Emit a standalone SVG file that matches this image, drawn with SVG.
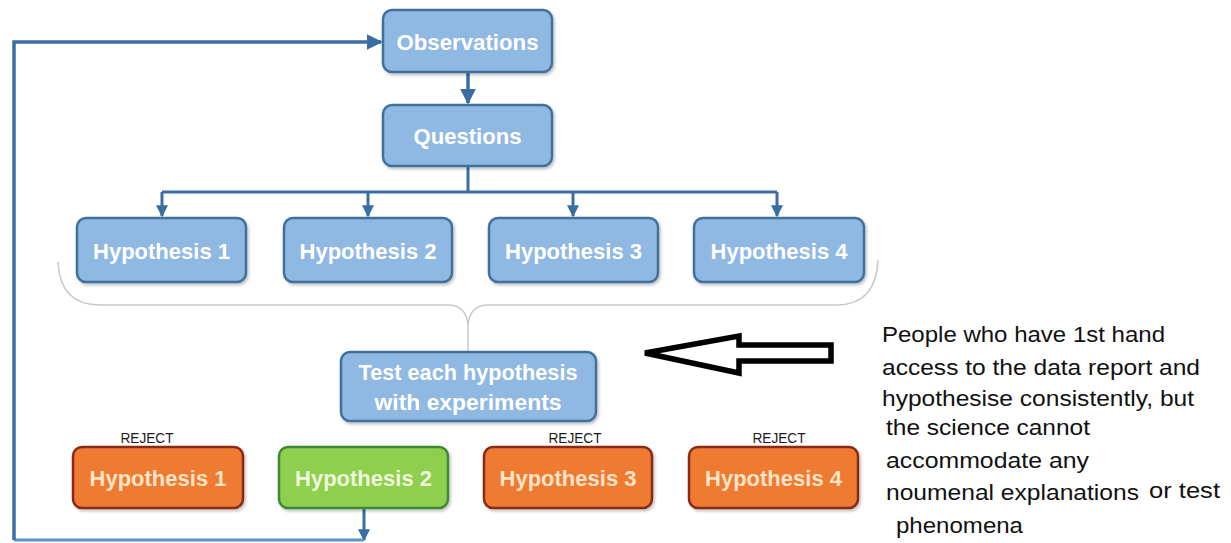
<svg xmlns="http://www.w3.org/2000/svg" width="1231" height="543" viewBox="0 0 1231 543">
  <defs>
    <style>
      .blue rect { fill: #8fb8e3; stroke: #3f6f9c; stroke-width: 2.5; }
      .orange rect { fill: #ef7a32; stroke: #8a2c14; stroke-width: 2.5; }
      .green rect { fill: #8ecf4e; stroke: #3e8a34; stroke-width: 2.5; }
      .lbl { font-family: "Liberation Sans", Arial, sans-serif; font-weight: bold; font-size: 22px; text-anchor: middle; }
      .blue text { fill: #ffffff; }
      .orange text.lbl { fill: #fbe3c6; }
      .green text.lbl { fill: #eef8dc; }
      .rej { font-family: "Liberation Sans", Arial, sans-serif; font-size: 14px; fill: #1a1a1a; text-anchor: middle; }
      .note { font-family: "Liberation Sans", Arial, sans-serif; font-size: 22px; fill: #111111; }
      .conn { fill: none; stroke: #3a6ea2; stroke-width: 3.5; }
      .thin { fill: none; stroke: #3a6ea2; stroke-width: 3; }
    </style>
    <marker id="ah" viewBox="0 0 10 10" refX="9" refY="5" markerWidth="4" markerHeight="4" orient="auto" markerUnits="strokeWidth">
      <path d="M0,0 L10,5 L0,10 z" fill="#3a6ea2"/>
    </marker>
    <marker id="ahb" viewBox="0 0 10 10" refX="9" refY="5" markerWidth="4.6" markerHeight="4.6" orient="auto" markerUnits="strokeWidth">
      <path d="M0,0 L10,5 L0,10 z" fill="#3a6ea2"/>
    </marker>
    <filter id="sh" x="-10%" y="-10%" width="130%" height="140%">
      <feDropShadow dx="1.5" dy="2" stdDeviation="1.5" flood-color="#000" flood-opacity="0.25"/>
    </filter>
  </defs>
  <rect width="1231" height="543" fill="#ffffff"/>

  <!-- brace -->
  <g id="brace" fill="none" stroke="#c9c9c9" stroke-width="1.5">
    <path d="M58,262 Q60,305 100,305 L448,305 Q466,305 468,325 Q470,305 488,305 L836,305 Q876,305 878,260"/>
    <path d="M468,325 L468,352"/>
  </g>

  <!-- connectors -->
  <g id="connectors">
    <path class="conn" d="M468,72 L468,103" marker-end="url(#ahb)"/>
    <path class="thin" d="M468,166 L468,192"/>
    <path class="thin" d="M162,192 L777,192"/>
    <path class="thin" d="M162,192 L162,216" marker-end="url(#ah)"/>
    <path class="thin" d="M368,192 L368,216" marker-end="url(#ah)"/>
    <path class="thin" d="M573,192 L573,216" marker-end="url(#ah)"/>
    <path class="thin" d="M777,192 L777,216" marker-end="url(#ah)"/>
    <path class="thin" d="M364,508 L364,540" marker-end="url(#ah)"/>
    <path d="M364,540 L14,540" fill="none" stroke="#5d93c8" stroke-width="3"/>
    <path class="conn" d="M14,540 L14,42 L381,42" marker-end="url(#ahb)"/>
  </g>

  <!-- big hollow arrow -->
  <g id="hollow-arrow">
    <path d="M645,353 L739,336 L739,345 L831,345 L831,361 L739,361 L739,373 Z" fill="#ffffff" stroke="#000000" stroke-width="5.5" stroke-linejoin="miter"/>
  </g>

  <g id="observations" class="blue">
    <rect x="383" y="10" width="169" height="62" rx="9" filter="url(#sh)"/>
    <text class="lbl" x="467.5" y="50" textLength="142" lengthAdjust="spacingAndGlyphs">Observations</text>
  </g>
  <g id="questions" class="blue">
    <rect x="383" y="105" width="169" height="61" rx="9" filter="url(#sh)"/>
    <text class="lbl" x="467.5" y="144" textLength="108" lengthAdjust="spacingAndGlyphs">Questions</text>
  </g>

  <g id="hyp1-top" class="blue">
    <rect x="77" y="218" width="169" height="64" rx="9" filter="url(#sh)"/>
    <text class="lbl" x="161.5" y="259" textLength="137" lengthAdjust="spacingAndGlyphs">Hypothesis 1</text>
  </g>
  <g id="hyp2-top" class="blue">
    <rect x="284" y="218" width="168" height="64" rx="9" filter="url(#sh)"/>
    <text class="lbl" x="368" y="259" textLength="137" lengthAdjust="spacingAndGlyphs">Hypothesis 2</text>
  </g>
  <g id="hyp3-top" class="blue">
    <rect x="489" y="218" width="169" height="64" rx="9" filter="url(#sh)"/>
    <text class="lbl" x="573.5" y="259" textLength="137" lengthAdjust="spacingAndGlyphs">Hypothesis 3</text>
  </g>
  <g id="hyp4-top" class="blue">
    <rect x="694" y="218" width="170" height="64" rx="9" filter="url(#sh)"/>
    <text class="lbl" x="779" y="259" textLength="137" lengthAdjust="spacingAndGlyphs">Hypothesis 4</text>
  </g>

  <g id="test" class="blue">
    <rect x="341" y="352" width="255" height="69" rx="9" filter="url(#sh)"/>
    <text class="lbl" x="468" y="380" font-size="21" textLength="219" lengthAdjust="spacingAndGlyphs">Test each hypothesis</text>
    <text class="lbl" x="468" y="410" font-size="21" textLength="187" lengthAdjust="spacingAndGlyphs">with experiments</text>
  </g>

  <g id="hyp1-bottom" class="orange">
    <text class="rej" x="147" y="443" textLength="53" lengthAdjust="spacingAndGlyphs">REJECT</text>
    <rect x="73" y="447" width="170" height="61" rx="9" filter="url(#sh)"/>
    <text class="lbl" x="158" y="486" textLength="137" lengthAdjust="spacingAndGlyphs">Hypothesis 1</text>
  </g>
  <g id="hyp2-bottom" class="green">
    <rect x="279" y="447" width="169" height="61" rx="9" filter="url(#sh)"/>
    <text class="lbl" x="363.5" y="486" textLength="137" lengthAdjust="spacingAndGlyphs">Hypothesis 2</text>
  </g>
  <g id="hyp3-bottom" class="orange">
    <text class="rej" x="575" y="443" textLength="53" lengthAdjust="spacingAndGlyphs">REJECT</text>
    <rect x="484" y="447" width="168" height="61" rx="9" filter="url(#sh)"/>
    <text class="lbl" x="568" y="486" textLength="137" lengthAdjust="spacingAndGlyphs">Hypothesis 3</text>
  </g>
  <g id="hyp4-bottom" class="orange">
    <text class="rej" x="779" y="443" textLength="53" lengthAdjust="spacingAndGlyphs">REJECT</text>
    <rect x="689" y="447" width="169" height="61" rx="9" filter="url(#sh)"/>
    <text class="lbl" x="773.5" y="486" textLength="137" lengthAdjust="spacingAndGlyphs">Hypothesis 4</text>
  </g>

  <g id="note">
    <text class="note" x="882" y="342" textLength="283" lengthAdjust="spacingAndGlyphs">People who have 1st hand</text>
    <text class="note" x="882" y="375" textLength="318" lengthAdjust="spacingAndGlyphs">access to the data report and</text>
    <text class="note" x="882" y="406" textLength="312" lengthAdjust="spacingAndGlyphs">hypothesise consistently, but</text>
    <text class="note" x="886" y="435" textLength="204" lengthAdjust="spacingAndGlyphs">the science cannot</text>
    <text class="note" x="886" y="468" textLength="203" lengthAdjust="spacingAndGlyphs">accommodate any</text>
    <text class="note" x="886" y="500" textLength="253" lengthAdjust="spacingAndGlyphs">noumenal explanations</text>
    <text class="note" x="1149" y="498" textLength="71" lengthAdjust="spacingAndGlyphs">or test</text>
    <text class="note" x="896" y="533" textLength="127" lengthAdjust="spacingAndGlyphs">phenomena</text>
  </g>
</svg>
